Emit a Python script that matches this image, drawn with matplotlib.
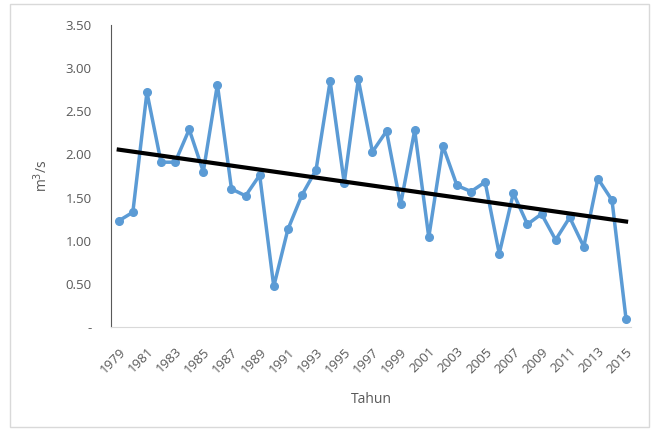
import numpy as np
import matplotlib.pyplot as plt
from matplotlib.patches import Rectangle

years = list(range(1979, 2016))
debit = [1.23, 1.33, 2.72, 1.91, 1.91, 2.29, 1.80, 2.81, 1.60, 1.52,
         1.76, 0.47, 1.13, 1.53, 1.82, 2.85, 1.67, 2.87, 2.03, 2.27,
         1.42, 2.28, 1.04, 2.10, 1.64, 1.57, 1.68, 0.85, 1.55, 1.19,
         1.31, 1.01, 1.27, 0.93, 1.72, 1.47, 0.09]
yticks = [0, 0.5, 1.0, 1.5, 2.0, 2.5, 3.0, 3.5]
ytick_labels = ["-", "0.50", "1.00", "1.50", "2.00", "2.50", "3.00", "3.50"]

txt_color = "#595959"
line_color = "#5B9BD5"
plt.rcParams["font.family"] = ["Open Sans", "DejaVu Sans"]

fig = plt.figure(figsize=(6.58, 4.32), dpi=100)
# chart border like excel
fig.patches.append(Rectangle((0.015, 0.012), 0.972, 0.978, transform=fig.transFigure,
                             fill=False, edgecolor="#d9d9d9", linewidth=1))
ax = fig.add_axes([111 / 658, 1 - 327 / 432, (631 - 111) / 658, (327 - 25) / 432])

ax.plot(years, debit, color=line_color, linewidth=2.5, marker="o", markersize=5.5,
        solid_joinstyle="round", solid_capstyle="round")

# linear trend line
coef = np.polyfit(years, debit, 1)
trend = np.polyval(coef, years)
ax.plot(years, trend, color="black", linewidth=3)

ax.set_xlim(1978.45, 2015.35)
ax.set_ylim(0, 3.5)
ax.set_yticks(yticks)
ax.set_yticklabels(ytick_labels)
ax.set_xticks(years[::2])
ax.set_xticklabels([str(y) for y in years[::2]], rotation=45, ha="right",
                   rotation_mode="anchor")
ax.tick_params(axis="both", length=0, colors=txt_color, labelsize=9.5)
ax.tick_params(axis="y", pad=14)
ax.tick_params(axis="x", pad=13)

for s in ["top", "right"]:
    ax.spines[s].set_visible(False)
ax.spines["left"].set_color("#595959")
ax.spines["bottom"].set_color("#d9d9d9")

ax.set_xlabel("Tahun", color=txt_color, fontsize=10, labelpad=12)
ax.set_ylabel("m$^3$/s", color=txt_color, fontsize=10, labelpad=10)

fig.savefig("out.png", dpi=100)
